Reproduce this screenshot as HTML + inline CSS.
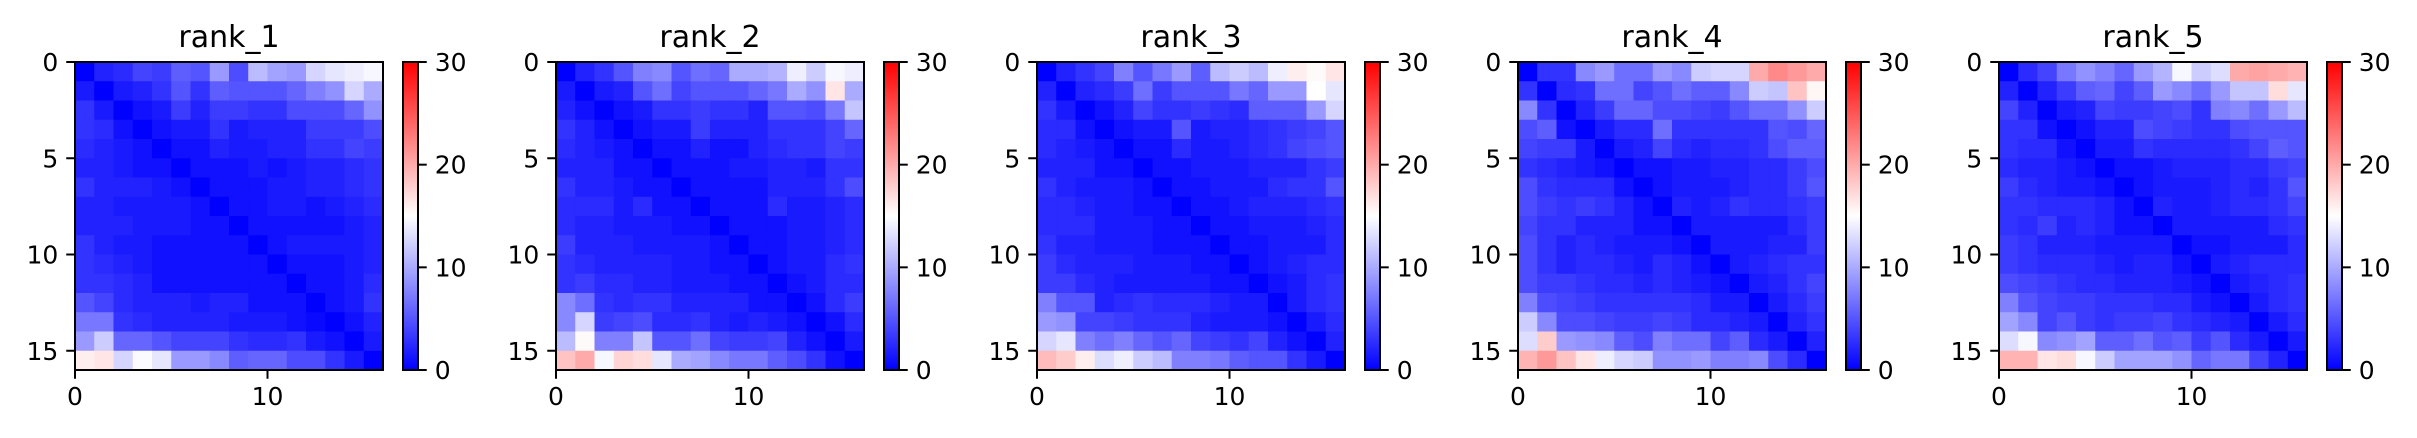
<!DOCTYPE html>
<html><head><meta charset="utf-8">
<style>
html,body{margin:0;padding:0;background:#fff;}
svg{display:block;font-family:"DejaVu Sans","Liberation Sans",sans-serif;}
</style></head>
<body>
<svg id="fig" width="2417" height="438" viewBox="0 0 2417 438" xmlns="http://www.w3.org/2000/svg"></svg>
<script>
const panelTitles = ["rank_1","rank_2","rank_3","rank_4","rank_5"];
const xTicks = [0, 10];
const yTicks = [0, 5, 10, 15];
const cbarTicks = [0, 10, 20, 30];
const vmin = 0, vmax = 30;
const rank1 = [
[0,2,2.5,4,3.5,5.5,5,9,4.5,11,9.5,9,12.5,13.5,14,14.5],
[1.5,0,1.5,2,3,5,3,5.5,5,5,5,6,7.5,8.5,12.5,10],
[3,1.5,0,1,1.5,3.5,2,3.5,3.5,3,3,4.5,4.5,4.5,6,8.5],
[3,2.5,1,0,1,1.5,1.5,3,1.5,2,2,2,3.5,3.5,3.5,4.5],
[2.5,2,1.5,1,0,1,1,2,1.5,1.5,2,2,3,3,4,3.5],
[2,2,1.5,1,1,0,1,1,1,1.5,1,1.5,2,2,2.5,3],
[3,2,2,2,1.5,1,0,1,1,1,1.5,1.5,2,2,2.5,3],
[2,2,1.5,1.5,1.5,1.5,1,0,1,1,1.5,1.5,1,1.5,2,2.5],
[2,2,2,1.5,1.5,1.5,1,1,0,1,1,1,1,1,1.5,2],
[3,2,1.5,1.5,1,1,1,1,1,0,1,1.5,1.5,1.5,1.5,2],
[3,2.5,2,1.5,1,1,1,1,1,1,0,1,1,1,1.5,2],
[3,3,2.5,2,1,1,1,1,1,1,1,0,1,1,1.5,2.5],
[5,4,2.5,2,2,2,1.5,2,2,1,1,1,0,1,1.5,3],
[7,7,3,2.5,2,2,2,2,1.5,1.5,1.5,1,0.5,0,1,2],
[9,12,6,6,5,4,4,4,3,2.5,2.5,3,1.5,1,0,1.5],
[16,16.5,12.5,14.7,13.5,9,9,8,5.5,6,6,4.5,4.5,3,1.5,0]];
const rank2 = [
[0,2,3,5,7.5,8,5,6.5,6,10,10,10.5,14,12,14.5,14],
[1.5,0,1.5,2,5,6.5,4,5,5,5,6,7,10,8.5,16.5,10],
[2,1,0,1,1.5,3,3,3.5,3,3,2,5,5,4.5,7,11.5],
[3,2,1,0,1,1.5,1.5,3.5,2,2,2,3,3,3,4,6],
[2.5,2,1.5,1,0,1,1,2,1,1,2,2.5,3,3,4,3.5],
[2,2,2,1,1,0,1,1,1,1.5,1.5,2,2,1.5,3,3],
[3,2,2,1.5,1,1,0,1,1,1,1,2,2,2,3,4.5],
[2.5,2.5,2.5,1.5,2.5,1,1,0,1,1,1,2.5,1.5,1.5,2,2.5],
[2.5,2,2,1.5,1.5,1.5,1,1,0,1,1,1,1.5,1.5,2,2.5],
[3.5,2,2,2,1.5,1.5,1.5,1.5,1,0,1,1,1.5,1.5,2,2.5],
[3,2.5,2,2,2,2,1.5,1.5,1,1,0,1,1.5,1.5,2.5,3],
[3,3.5,2.5,2.5,2,2,1.5,1.5,1.5,1,1,0,1,1.5,2.5,2.5],
[8,6.5,3,2.5,3,3,2,2,2,2,1,1,0,1,2.5,3.5],
[8,12.5,3.5,4,4.5,2.5,2.5,3,2,1.5,2,1.5,1,0,1,2.5],
[11,15.3,7.5,7.5,11.5,5,5,6.5,4,3.5,3.5,4,2,1,0,1.5],
[18.5,20,14.5,17.5,17,13.5,10,9.5,8,7,7,5.5,4.5,3,1,0]];
const rank3 = [
[0,2,3,4,7.5,5,7,9,5.5,11,12,11,14,16,15.3,16.5],
[2,0,2,2.5,3.5,6.5,3.5,5,5,5,7,6,9,9,15,13.5],
[3,1.5,0,1,2,4,3,3,3.5,3,2.5,5.5,5.5,5.5,9,12.5],
[2.5,2.5,1,0,1,1.5,1.5,5,1.5,2,2,2.5,3,3.5,4,5],
[2.5,2,1.5,1,0,1,1,2.5,1.5,1.5,2,2.5,3,4,4.5,5],
[2,2,2,1,1,0,1,1,1.5,1.5,1.5,2,2,2,3,3.5],
[3,2,1.5,1.5,1.5,1,0,1,1,1.5,1.5,1.5,2.5,3,3,5],
[2.5,2.5,2,1.5,1.5,1,1,0,1,1,1.5,2,2,2,2.5,3],
[2.5,2.5,2.5,1.5,1.5,1.5,1,1,0,1,1,1.5,1.5,1.5,2,2.5],
[3,2,2,1.5,1.5,1.5,1,1,1,0,1,1,1.5,1.5,1.5,2.5],
[3.5,2.5,2,2,2,1.5,1.5,1.5,1,1,0,1,1.5,2,2.5,2.5],
[3.5,3.5,2.5,2,1.5,1.5,1.5,1.5,1.5,1,1,0,1,1.5,2.5,3],
[7.5,5,5,2,2.5,3,2.5,2.5,2.5,2,1.5,1.5,0,1.5,2.5,3],
[9,8.5,4,4,3.5,3,3,3,2,1.5,1.5,1.5,1,0,1.5,2.5],
[12.5,13.5,7.5,6.5,7.5,6,5,6,4,3.5,3,4,2,1,0,2],
[19,18,16,13,14,12,11,7.5,7.5,7,5.5,5,5,3,1.5,0]];
const rank4 = [
[0,3,3,8,9,6.5,6.5,9,8,12,12.5,12.5,20,22,21,20],
[3,0,2.5,3,6.5,6.5,4,5,6.5,5.5,5.5,8,12,11.5,18.5,15.5],
[8,3,0,2,3.5,6,6,4.5,4.5,4,3.5,5,6.5,6.5,8.5,12],
[4.5,5.5,1,0,1.5,2.5,2.5,6.5,3,3,3,3,3,5,4.5,6],
[4,3.5,3.5,1.5,0,1.5,2,4,2.5,2,2.5,2.5,3,4.5,5.5,5.5],
[3,2.5,2,1.5,1,0,1,1,1.5,1.5,2,2,2.5,2.5,3.5,4.5],
[4.5,3,2.5,2.5,2.5,1,0,1,1.5,1.5,1.5,2,2.5,2.5,3.5,5],
[4.5,3.5,3,3.5,3,2,1,0,2,1.5,2,3,2.5,2.5,3,3.5],
[4,3,3,2,2,2,1,1,0,1.5,1.5,1.5,1.5,1.5,2.5,3.5],
[4.5,3,2,2.5,2,1.5,1.5,1.5,1,0,1.5,1.5,1.5,2,2,3.5],
[4.5,3,2,2.5,2.5,2,1.5,2.5,2,1,0,1.5,2,2.5,3,3],
[4.5,3.5,3.5,3,2.5,2.5,2,2.5,2,1.5,1,0,1.5,2,3,4],
[7.5,4.5,4,3.5,3,3,3,3,3,2.5,1.5,1.5,0,1.5,2.5,3.5],
[12,8,4.5,4.5,4,3.5,3.5,4,3.5,2.5,2.5,2,1.5,0,2,3],
[13,18,9,8.5,8,5.5,4.5,7.5,6.5,6.5,4,5.5,2.5,1.5,0,2],
[19.5,21,18.5,16.5,14,12.5,12,8.5,8.5,9,7.5,7.5,8,4.5,2.5,0]];
const rank5 = [
[0,2.5,4,7,8.5,7.5,6,9,10.5,14.5,12,13,20,20.5,20,19.5],
[2,0,2,3.5,5.5,6,4,5.5,9,8,6.5,9,11.5,11.5,17,13.5],
[4,2,0,1.5,2,4,3.5,3.5,4,4.5,3,7.5,8,6.5,9,11],
[3,3,1,0,1,2,2,4.5,4,3.5,3,3,4.5,5,5,5],
[3,2.5,2.5,1,0,1.5,1.5,3,2.5,2.5,2.5,2.5,3,4,5.5,5],
[2.5,2,2,1.5,1,0,1,1,1.5,2,2,2,2.5,2.5,3.5,4],
[3.5,2.5,2,1.5,1.5,1,0,1,1.5,1.5,1.5,2,2.5,2,3,5],
[3,3,2.5,2.5,2.5,2,1,0,2,1.5,1.5,2,2.5,2.5,3,4],
[3,2.5,3.5,2,2.5,2,1,1,0,1.5,1.5,1.5,1.5,1.5,2.5,3],
[3.5,3,2,2,2,1.5,1.5,1.5,1.5,0,1,1,1.5,1.5,1.5,2.5],
[3.5,3,2.5,2.5,2.5,2,1.5,2,2,1,0,1.5,2,2.5,2.5,2.5],
[4.5,4,3.5,3,2.5,2.5,2,2,2,1.5,1,0,1.5,2,2.5,3],
[7.5,5,4,3.5,3.5,3,3,3,2.5,2.5,1.5,1,0,1.5,2.5,3],
[9.5,8,4,5,3.5,3,3.5,3.5,4,3,2.5,2,1.5,0,1.5,2.5],
[13,14.5,8,8.5,9.5,5.5,5.5,6.5,5,5.5,3.5,5,2.5,1.5,0,1.5],
[19.5,19.5,16.5,17,14.5,12,9.5,9.5,9.5,8.5,6,7,7,4,2,0]];
const matrices = [rank1, rank2, rank3, rank4, rank5];

const NS = "http://www.w3.org/2000/svg";
const svg = document.getElementById("fig");
const AX_W = 308, AX_TOP = 62, AX_H = 308, N = 16;
const LEFTS = [75, 556, 1037, 1518, 1999];
const FS = 25, TICK = 8.75;

function bwr(v){
  let t = (v - vmin) / (vmax - vmin); t = Math.max(0, Math.min(1, t));
  let r,g,b;
  if (t < 0.5){ r = g = 2*t; b = 1; } else { r = 1; g = b = 2*(1-t); }
  return `rgb(${Math.round(r*255)},${Math.round(g*255)},${Math.round(b*255)})`;
}
function mk(tag, attrs, parent){
  const e = document.createElementNS(NS, tag);
  for (const k in attrs) e.setAttribute(k, attrs[k]);
  (parent||svg).appendChild(e);
  return e;
}

matrices.forEach((M, p) => {
  const L = LEFTS[p];
  const xScale = v => L + v * AX_W / N;
  const yScale = v => AX_TOP + v * AX_H / N;
  const g = mk("g", {});
  
  
  for (let r = 0; r < N; r++) for (let c = 0; c < N; c++){
    const x0 = xScale(c), y0 = yScale(r);
    const cell = mk("rect", {x: x0, y: y0, width: xScale(c+1)-x0+0.5, height: yScale(r+1)-y0+0.5, fill: bwr(M[r][c])}, g);
    
    
  }
  const frame = mk("rect", {x: L, y: AX_TOP, width: AX_W, height: AX_H, fill: "none", stroke: "#000", "stroke-width": 2}, g);
  
  
  const title = mk("text", {x: L + AX_W/2, y: 47, "text-anchor": "middle", "font-size": 30}, g);
  title.textContent = panelTitles[p];
  
  
  yTicks.forEach(t => {
    const y = yScale(t);
    mk("line", {x1: L - TICK, x2: L, y1: y, y2: y, stroke: "#000", "stroke-width": 2}, g);
    const lb = mk("text", {x: L - TICK - 8, y: y + 9, "text-anchor": "end", "font-size": FS}, g);
    lb.textContent = t;
    
    
  });
  xTicks.forEach(t => {
    const x = xScale(t);
    mk("line", {x1: x, x2: x, y1: AX_TOP + AX_H, y2: AX_TOP + AX_H + TICK, stroke: "#000", "stroke-width": 2}, g);
    const lb = mk("text", {x: x, y: AX_TOP + AX_H + TICK + 8 + 18, "text-anchor": "middle", "font-size": FS}, g);
    lb.textContent = t;
    
    
  });
  // colorbar
  const CB_X = L + 328, CB_W = 15;
  const cbScale = v => AX_TOP + AX_H - (v - vmin) / (vmax - vmin) * AX_H;
  const gradId = "grad" + p;
  const defs = mk("defs", {}, g);
  const lg = mk("linearGradient", {id: gradId, x1: 0, y1: 1, x2: 0, y2: 0}, defs);
  mk("stop", {offset: "0", "stop-color": bwr(vmin)}, lg);
  mk("stop", {offset: "0.5", "stop-color": bwr((vmin+vmax)/2)}, lg);
  mk("stop", {offset: "1", "stop-color": bwr(vmax)}, lg);
  const cb = mk("rect", {x: CB_X, y: AX_TOP, width: CB_W, height: AX_H, fill: `url(#${gradId})`, stroke: "#000", "stroke-width": 2}, g);
  
  
  cbarTicks.forEach(t => {
    const y = cbScale(t);
    mk("line", {x1: CB_X + CB_W, x2: CB_X + CB_W + TICK, y1: y, y2: y, stroke: "#000", "stroke-width": 2}, g);
    const lb = mk("text", {x: CB_X + CB_W + TICK + 8, y: y + 9, "text-anchor": "start", "font-size": FS}, g);
    lb.textContent = t;
    
    
  });
});
</script>
</body></html>
